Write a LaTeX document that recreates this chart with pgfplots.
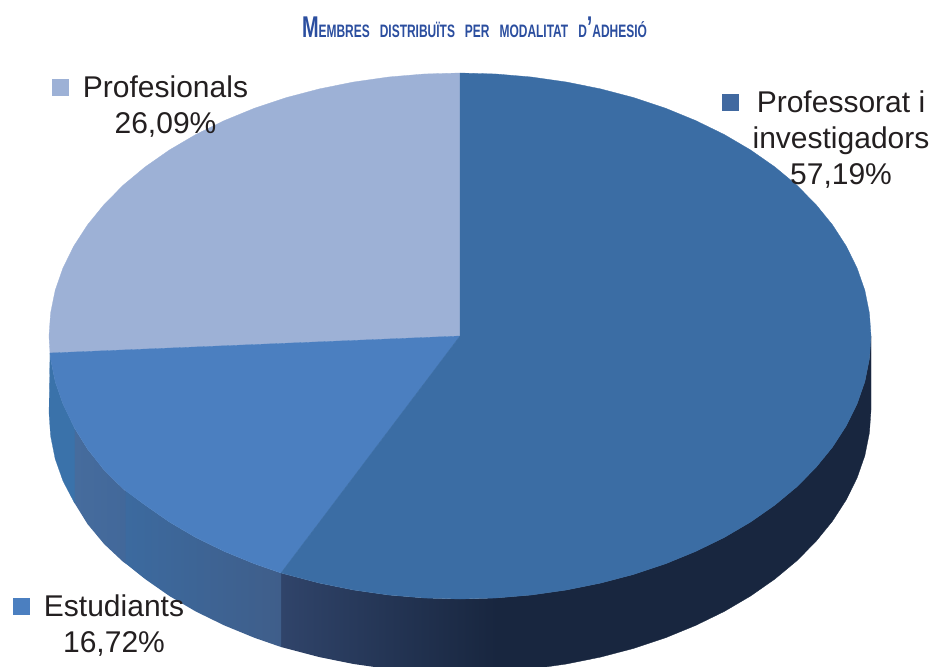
\documentclass[border=0pt]{standalone}
\usepackage{graphicx}
\usepackage{fontspec}
\usepackage{pgfplots}
\pgfplotsset{compat=1.18}
\setmainfont{Liberation Sans}

\definecolor{profe}{HTML}{3B6DA4}
\definecolor{estud}{HTML}{4B7FC0}
\definecolor{prof2}{HTML}{9DB1D6}
\definecolor{dark}{HTML}{18263F}
\definecolor{darkl}{HTML}{30446A}
\definecolor{ink}{HTML}{231F20}
\definecolor{titol}{HTML}{2B4E9F}
\definecolor{sidea}{HTML}{3C6A9F}
\definecolor{sideb}{HTML}{3F5E8A}
\definecolor{sidec}{HTML}{466C9D}
\definecolor{sided}{HTML}{42689A}
\definecolor{sidee}{HTML}{3A72AA}
\definecolor{keyprof}{HTML}{4169A0}

% title in fake small caps
\newcommand{\bigc}[1]{{\fontsize{30}{30}\selectfont #1}}
\newcommand{\smc}[1]{{\fontsize{18}{18}\selectfont #1}}

\begin{document}
\begin{tikzpicture}[x=1pt,y=1pt]
\useasboundingbox (0,0) rectangle (933,666);
\begin{axis}[
    at={(0,0)}, anchor=south west,
    scale only axis,
    width=933pt, height=666pt,
    xmin=0, xmax=933,
    ymin=0, ymax=666,
    y dir=reverse,
    hide axis,
    clip=true,
]
% side, Professorat: flat dark part
\addplot[fill=dark, draw=dark, line width=0.3pt] coordinates {
(871,336)(869.4,358.9)(864.8,381.7)(857,404.1)(846.2,425.9)(832.5,447.1)(815.9,467.5)(796.7,486.9)(774.8,505.1)(750.6,522)(724.2,537.5)(695.7,551.4)(665.5,563.8)(633.7,574.4)(600.6,583.1)(566.4,590)(531.4,595)(495.8,598)
(495.8,672)(531.4,669)(566.4,664)(600.6,657.1)(633.7,648.4)(665.5,637.8)(695.7,625.4)(724.2,611.5)(750.6,596)(774.8,579.1)(796.7,560.9)(815.9,541.5)(832.5,521.1)(846.2,499.9)(857,478.1)(864.8,455.7)(869.4,432.9)(871,410)
} -- cycle;
% side, Professorat: gradient part
\addplot[left color=darkl, right color=dark, draw=none] coordinates {
(496.5,598)(460,599)(424.2,598)(388.6,595)(353.6,590)(319.4,583.1)(286.3,574.4)(281,573)
(281,647)(286.3,648.4)(319.4,657.1)(353.6,664)(388.6,669)(424.2,672)(460,673)(496.5,672)
} -- cycle;
% side, Estudiants: three bands
\addplot[left color=sidea, right color=sideb, draw=none] coordinates {
(281,573)(254.5,563.8)(224.3,551.4)(195.8,537.5)(169.4,522)(145.2,505.1)(125,490)
(125,563)(145.2,579.1)(169.4,596)(195.8,611.5)(224.3,625.4)(254.5,637.8)(281,647)
} -- cycle;
\addplot[left color=sidec, right color=sided, draw=none] coordinates {
(125.5,491)(123.3,489)(104.1,470)(87.5,449)(74.5,428)
(74.5,503)(87.5,524)(104.1,544)(123.3,562)(125.5,563.5)
} -- cycle;
\addplot[fill=sidee, draw=sidee, line width=0.2pt] coordinates {
(74.5,428)(63,404.1)(55.2,381.7)(50.6,358.9)(50,353)
(49,413)(50.6,436)(55.2,459)(63,481)(74.5,503)
} -- cycle;
% top faces
\addplot[fill=prof2, draw=prof2, line width=0.3pt] coordinates {
(460,336)(50,353)(49,336)(50.6,313.1)(55.2,290.3)(63,267.9)(73.8,246.1)(87.5,224.9)(104.1,204.5)(123.3,185.1)(145.2,166.9)(169.4,150)(195.8,134.5)(224.3,120.6)(254.5,108.2)(286.3,97.6)(319.4,88.9)(353.6,82)(388.6,77)(424.2,74)(460,73)
} -- cycle;
\addplot[fill=estud, draw=estud, line width=0.3pt] coordinates {
(460,336)(281,573)(254.5,563.8)(224.3,551.4)(195.8,537.5)(169.4,522)(145.2,505.1)(123.3,489)(104.1,470)(87.5,449)(74.5,428)(63,404.1)(55.2,381.7)(50.6,358.9)(50,353)
} -- cycle;
\addplot[fill=profe, draw=profe, line width=0.3pt] coordinates {
(460,73)(495.8,74)(531.4,77)(566.4,82)(600.6,88.9)(633.7,97.6)(665.5,108.2)(695.7,120.6)(724.2,134.5)(750.6,150)(774.8,166.9)(796.7,185.1)(815.9,204.5)(832.5,224.9)(846.2,246.1)(857,267.9)(864.8,290.3)(869.4,313.1)(871,336)(869.4,358.9)(864.8,381.7)(857,404.1)(846.2,425.9)(832.5,447.1)(815.9,467.5)(796.7,486.9)(774.8,505.1)(750.6,522)(724.2,537.5)(695.7,551.4)(665.5,563.8)(633.7,574.4)(600.6,583.1)(566.4,590)(531.4,595)(495.8,598)(460,599)(424.2,598)(388.6,595)(353.6,590)(319.4,583.1)(286.3,574.4)(281,573)(460,336)
} -- cycle;
% legend squares
\addplot[only marks, mark=square*, mark size=8pt, mark options={fill=prof2, draw=prof2, line width=0pt}] coordinates {(60,88)};
\addplot[only marks, mark=square*, mark size=8pt, mark options={fill=keyprof, draw=keyprof, line width=0pt}] coordinates {(730,103)};
\addplot[only marks, mark=square*, mark size=8pt, mark options={fill=estud, draw=estud, line width=0pt}] coordinates {(21,606)};
% labels
\begin{scope}[every node/.style={anchor=base, inner sep=0pt, text=ink, font=\fontsize{30}{36}\selectfont}]
\node at (axis cs:165.5,98) {Profesionals};
\node at (axis cs:165.5,133) {26,09\%};
\node at (axis cs:841,113) {Professorat i};
\node at (axis cs:841,148) {investigadors};
\node at (axis cs:841,184) {57,19\%};
\node at (axis cs:114,616) {Estudiants};
\node at (axis cs:114,652) {16,72\%};
\end{scope}
\node[anchor=base, inner sep=0pt, text=titol, font=\bfseries] at (axis cs:474.5,38) {\resizebox{345pt}{\height}{\bigc{M}\smc{EMBRES}\hspace{15pt}\smc{DISTRIBUÏTS}\hspace{15pt}\smc{PER}\hspace{15pt}\smc{MODALITAT}\hspace{15pt}\smc{D}\bigc{’}\smc{ADHESIÓ}}};
\end{axis}
\end{tikzpicture}
\end{document}
